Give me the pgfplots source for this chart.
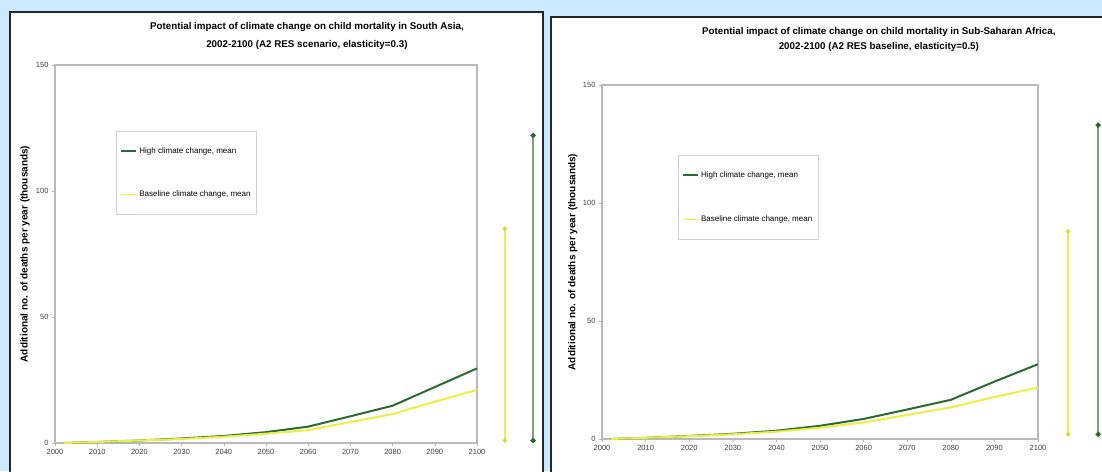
\documentclass[border=0pt]{standalone}
\usepackage{pgfplots}
\pgfplotsset{compat=1.18}
\usepackage{fontspec}
\setmainfont{Liberation Sans}
\definecolor{bgblue}{RGB}{205,233,255}
\definecolor{dgreen}{RGB}{45,105,50}
\definecolor{ylw}{RGB}{232,240,70}
\definecolor{rgreen}{RGB}{115,170,115}
\definecolor{ydark}{RGB}{215,220,60}

\pgfplotstableread{
year high base
2002 0 0
2010 0.4 0.4
2020 1.0 1.0
2030 1.8 1.6
2040 2.8 2.5
2050 4.3 3.7
2060 6.5 5.1
2070 10.6 8.3
2080 14.8 11.5
2090 22.2 16.4
2100 29.6 21.1
}\southasia

\pgfplotstableread{
year high base
2002 0 0
2010 0.5 0.5
2020 1.3 1.2
2030 2.2 2.0
2040 3.5 3.1
2050 5.6 4.8
2060 8.5 7.0
2070 12.5 10.2
2080 16.6 13.4
2090 24.3 17.8
2100 31.7 21.8
}\ssa

\pgfplotsset{
  panel/.style={
    scale only axis,
    anchor=south west,
    xmin=2000, xmax=2100, ymin=0, ymax=150,
    xtick={2000,2010,...,2100},
    ytick={0,50,100,150},
    clip=false,
    axis line style={draw=gray!55, line width=1.2pt},
    tick style={draw=gray!60, line width=0.6pt},
    tick align=outside,
    major tick length=3pt,
    xtick pos=bottom, ytick pos=left,
    ticklabel style={font=\fontsize{7.5}{8}\selectfont, text=black!75},
    /pgf/number format/.cd, 1000 sep={}, assume math mode=true,
    /pgfplots/.cd,
    ylabel={Additional no. of deaths per year (thousands)},
    legend cell align=left,
    legend image code/.code={\draw[##1, line width=1.8pt] (0pt,0pt) -- (15pt,0pt);},
  },
}

\begin{document}
\begin{tikzpicture}
\clip (0pt,0pt) rectangle (1102pt,471pt);
\fill[bgblue] (0pt,0pt) rectangle (1102pt,471pt);
\draw[fill=white, draw=black!85, line width=1.5pt] (10pt,-10pt) rectangle (543pt,459pt);
\draw[fill=white, draw=black!85, line width=1.5pt] (551pt,-10pt) rectangle (1120pt,454pt);

\begin{axis}[panel,
  at={(55pt,28pt)}, width=422pt, height=378pt,
  ylabel style={font=\bfseries\fontsize{10}{11}\selectfont, at={(axis description cs:-0.071,0.5)}, anchor=center},
  title={Potential impact of climate change on child mortality in South Asia,\\2002-2100 (A2 RES scenario, elasticity=0.3)},
  title style={font=\bfseries\fontsize{9.8}{18}\selectfont, align=center, at={(axis description cs:0.597,1)}, anchor=south, inner sep=0pt, yshift=9pt},
  legend style={at={(0.145,0.825)}, anchor=north west, draw=gray!35, line width=0.8pt, fill=white,
    font=\fontsize{8}{9}\selectfont, row sep=32pt, inner xsep=4pt, inner ysep=14pt},
]
\addplot[dgreen, line width=2pt] table[x=year, y=high] {\southasia};
\addlegendentry{High climate change, mean}
\addplot[ylw, line width=2pt] table[x=year, y=base] {\southasia};
\addlegendentry{Baseline climate change, mean}
\addplot[ylw, line width=1.6pt, mark=*, mark size=1.4pt, mark options={fill=ydark, draw=ydark}, forget plot]
  coordinates {(2106.6,1) (2106.6,85)};
\addplot[rgreen, line width=1.6pt, mark=*, mark size=1.8pt, mark options={fill=dgreen, draw=dgreen}, forget plot]
  coordinates {(2113.3,1) (2113.3,122)};
\end{axis}

\begin{axis}[panel,
  at={(602pt,32pt)}, width=436pt, height=354pt,
  ylabel style={font=\bfseries\fontsize{10}{11}\selectfont, at={(axis description cs:-0.067,0.5)}, anchor=center},
  title={Potential impact of climate change on child mortality in Sub-Saharan Africa,\\2002-2100 (A2 RES baseline, elasticity=0.5)},
  title style={font=\bfseries\fontsize{9.8}{15}\selectfont, align=center, at={(axis description cs:0.635,1)}, anchor=south, inner sep=0pt, yshift=27pt},
  legend style={at={(0.174,0.802)}, anchor=north west, draw=gray!35, line width=0.8pt, fill=white,
    font=\fontsize{8}{9}\selectfont, row sep=33pt, inner xsep=4pt, inner ysep=14pt},
]
\addplot[dgreen, line width=2pt] table[x=year, y=high] {\ssa};
\addlegendentry{High climate change, mean}
\addplot[ylw, line width=2pt] table[x=year, y=base] {\ssa};
\addlegendentry{Baseline climate change, mean}
\addplot[ylw, line width=1.6pt, mark=*, mark size=1.4pt, mark options={fill=ydark, draw=ydark}, forget plot]
  coordinates {(2106.9,2) (2106.9,88)};
\addplot[rgreen, line width=1.6pt, mark=*, mark size=1.8pt, mark options={fill=dgreen, draw=dgreen}, forget plot]
  coordinates {(2113.8,2) (2113.8,133)};
\end{axis}
\end{tikzpicture}
\end{document}
